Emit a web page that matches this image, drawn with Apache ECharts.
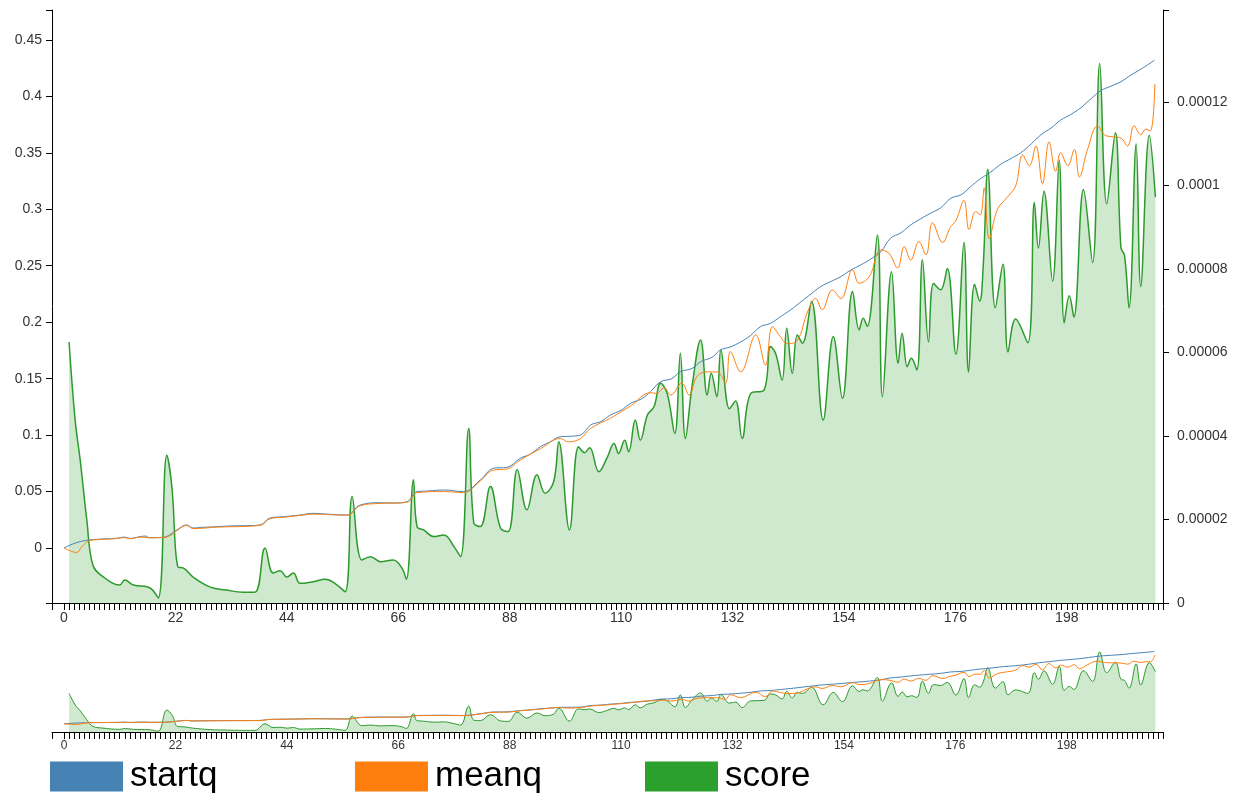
<!DOCTYPE html>
<html>
<head>
<meta charset="utf-8">
<script src="https://cdn.jsdelivr.net/npm/echarts@6/dist/echarts.min.js"></script>
<style>
  html, body { margin: 0; padding: 0; background: #fff; }
  #chart { width: 1239px; height: 795px; }
</style>
</head>
<body>
<div id="chart"></div>
<script>
// tick labels
var xLabels = [0, 22, 44, 66, 88, 110, 132, 154, 176, 198];
var leftLabels = [0, 0.05, 0.1, 0.15, 0.2, 0.25, 0.3, 0.35, 0.4, 0.45];
var rightLabels = [0, 0.00002, 0.00004, 0.00006, 0.00008, 0.0001, 0.00012];

// startq (left axis), [index, value]
var startq = [
  [0, 0.000], [2, 0.004], [4, 0.0065], [5, 0.0071], [7, 0.0078], [9, 0.0083], [10.4, 0.0086],
  [12, 0.0097], [13, 0.0085], [15, 0.0100], [16, 0.0106], [17, 0.0092], [19.6, 0.0095], [21, 0.012],
  [22.3, 0.016], [24.2, 0.0204], [25.5, 0.0177], [27, 0.0182], [30.2, 0.0189], [33, 0.0196],
  [36, 0.0198], [38.7, 0.0204], [40.7, 0.0266], [43.3, 0.0277], [46.6, 0.0292], [49.2, 0.0307],
  [52, 0.0300], [55.9, 0.0292], [58.5, 0.0381], [62.5, 0.0401], [65, 0.0398], [67.7, 0.0410],
  [69.7, 0.0499], [72, 0.0505], [75, 0.0514], [78.9, 0.0499], [82.2, 0.0602], [84.8, 0.0706],
  [87.5, 0.0715], [90.1, 0.0795], [92, 0.0830], [94.1, 0.0898], [96, 0.0940], [98, 0.0986],
  [100, 0.0990], [102, 0.1001], [104, 0.1090], [106, 0.1120], [107.9, 0.1178], [110, 0.1220],
  [111.9, 0.1282], [114, 0.1320], [115.8, 0.1385], [117.8, 0.1473], [120, 0.1500], [121.7, 0.1562],
  [124, 0.1590], [125.7, 0.1650], [128, 0.1690], [129.6, 0.1754], [131.5, 0.1780], [133.6, 0.1825],
  [135.5, 0.1880], [137.5, 0.1960], [139.5, 0.1990], [141.5, 0.2050], [143.5, 0.2110], [145.5, 0.2180],
  [147.5, 0.2250], [149.4, 0.2315], [151.4, 0.2360], [153.4, 0.2404], [155.3, 0.2460], [157.3, 0.2507],
  [159.3, 0.2560], [161.3, 0.2625], [163.2, 0.2744], [165.2, 0.2790], [167.2, 0.2862], [169.2, 0.2917],
  [171.1, 0.2965], [173.1, 0.3013], [175.1, 0.3098], [177.1, 0.3128], [179, 0.3200], [181, 0.3272],
  [183, 0.3330], [185, 0.3400], [187, 0.3450], [188.9, 0.3500], [191, 0.3580], [192.9, 0.3660],
  [194.9, 0.3720], [196.8, 0.3790], [198.8, 0.3840], [200.8, 0.3900], [202.8, 0.3980], [204.7, 0.4050],
  [206.7, 0.4090], [208.7, 0.4130], [210.7, 0.4190], [212.6, 0.4240], [214, 0.4280], [215.3, 0.4320]
];

// meanq (left axis), [index, value]
var meanq = [
  [0, 0.000], [1.5, -0.003], [2.5, -0.004], [3.5, 0.001], [5, 0.0065], [7, 0.0075], [9, 0.0080],
  [10.4, 0.0084], [12, 0.0092], [13, 0.0082], [15, 0.0097], [17, 0.0090], [19.6, 0.0093], [21, 0.0110],
  [22.3, 0.0155], [24.2, 0.0200], [25.5, 0.0172], [30.2, 0.0185], [38.7, 0.0200], [40.7, 0.0260],
  [43.3, 0.0272], [46.6, 0.0288], [49.2, 0.0300], [55.9, 0.0290], [58.5, 0.0375], [62.5, 0.0395],
  [67.7, 0.0405], [69.7, 0.0490], [75, 0.0500], [78.9, 0.0490], [82.2, 0.0595], [84.8, 0.0690],
  [87.5, 0.0700], [90.1, 0.0780], [94.1, 0.0880], [98, 0.0970], [99.6, 0.0940], [102, 0.0970],
  [104, 0.1060], [107.9, 0.1150], [111.9, 0.1260], [115.8, 0.1375], [117, 0.1370], [118.5, 0.1420],
  [119.8, 0.1355], [122, 0.1460], [123.4, 0.1355], [125, 0.1520], [127, 0.1560], [129, 0.1560],
  [130.6, 0.1460], [131.6, 0.1740], [133.6, 0.1560], [136.6, 0.1887], [138.5, 0.1620], [139.9, 0.1960],
  [141.5, 0.1870], [142.8, 0.1810], [144.8, 0.1840], [146.8, 0.2090], [148.4, 0.2210], [149.7, 0.2110],
  [151.7, 0.2286], [153.4, 0.2210], [155.7, 0.2463], [157, 0.2345], [159, 0.2404], [161.3, 0.2640],
  [162.9, 0.2610], [164.6, 0.2480], [165.9, 0.2670], [167.2, 0.2550], [168.8, 0.2714], [170.2, 0.2596],
  [171.5, 0.2880], [173.5, 0.2706], [175, 0.2840], [176.1, 0.2900], [177.7, 0.3078], [178.7, 0.2820],
  [180, 0.2980], [180.9, 0.2950], [181.7, 0.3190], [182.7, 0.2740], [184.3, 0.2997], [186.3, 0.3110],
  [187.9, 0.3207], [189.3, 0.3480], [190.6, 0.3385], [191.9, 0.3560], [193.2, 0.3225], [194.5, 0.3597],
  [195.8, 0.3337], [196.8, 0.3500], [198.2, 0.3385], [199.5, 0.3530], [200.5, 0.3287], [202.1, 0.3530],
  [204.1, 0.3740], [205.4, 0.3660], [206.7, 0.3644], [208.7, 0.3630], [210, 0.3560], [211.3, 0.3740],
  [212.6, 0.3660], [213.6, 0.3710], [214.5, 0.3695], [215.4, 0.4110]
];

// score (right axis), [index, value]
var score = [
  [1, 6.25e-5], [2.2, 4.38e-5], [3.2, 3.42e-5], [4.5, 1.99e-5], [5.7, 0.91e-5], [7.7, 0.63e-5],
  [11, 0.43e-5], [12, 0.55e-5], [13.7, 0.43e-5], [17, 0.36e-5], [18.6, 0.12e-5], [20.3, 3.54e-5],
  [21.3, 2.78e-5], [22.5, 0.86e-5], [23.5, 0.84e-5], [25.5, 0.62e-5], [28.9, 0.38e-5], [32, 0.31e-5],
  [35.4, 0.26e-5], [37.7, 0.26e-5], [39.7, 1.32e-5], [41.3, 0.72e-5], [42.7, 0.77e-5], [44, 0.62e-5],
  [45.3, 0.72e-5], [46.6, 0.47e-5], [49.2, 0.51e-5], [51.6, 0.57e-5], [53.6, 0.46e-5], [55.5, 0.27e-5],
  [56.9, 2.55e-5], [58.8, 1.03e-5], [60.5, 1.11e-5], [62.5, 0.99e-5], [65, 1.03e-5], [66.7, 0.84e-5],
  [67.6, 0.57e-5], [69, 2.95e-5], [69.7, 1.83e-5], [71, 1.75e-5], [73, 1.59e-5], [75, 1.63e-5],
  [77, 1.35e-5], [78.3, 1.11e-5], [79.9, 4.18e-5], [80.9, 1.92e-5], [82.2, 1.83e-5], [84.2, 2.79e-5],
  [86.2, 1.79e-5], [87.7, 1.71e-5], [89.5, 3.19e-5], [91.4, 2.23e-5], [93.4, 3.07e-5], [95, 2.63e-5],
  [96.7, 2.91e-5], [97.7, 3.86e-5], [99.8, 1.75e-5], [101.6, 3.74e-5], [102.8, 3.6e-5], [103.8, 3.72e-5],
  [105.6, 3.14e-5], [107.2, 3.47e-5], [108.6, 3.82e-5], [109.5, 3.58e-5], [110.7, 3.9e-5], [111.5, 3.62e-5],
  [112.8, 4.38e-5], [113.8, 3.9e-5], [115.2, 4.5e-5], [116.5, 4.7e-5], [117.8, 5.26e-5], [119.1, 5.02e-5],
  [120.6, 4.06e-5], [121.7, 5.98e-5], [122.7, 3.94e-5], [124, 5.18e-5], [125.7, 6.3e-5], [127, 4.98e-5],
  [127.8, 5.5e-5], [128.9, 4.94e-5], [129.7, 6.06e-5], [131.4, 4.65e-5], [132.6, 4.84e-5], [133.9, 3.94e-5],
  [135.6, 5.02e-5], [138.2, 5.1e-5], [139.5, 6.14e-5], [140.5, 5.98e-5], [141.8, 5.34e-5], [142.7, 6.58e-5],
  [143.8, 5.5e-5], [144.8, 6.42e-5], [145.8, 6.22e-5], [147.6, 7.22e-5], [149.9, 4.38e-5], [151.9, 6.38e-5],
  [153.7, 4.9e-5], [155.7, 7.46e-5], [157, 6.54e-5], [157.8, 6.82e-5], [158.6, 6.62e-5], [160.6, 8.81e-5],
  [161.6, 4.94e-5], [163.4, 7.93e-5], [164.7, 5.74e-5], [165.5, 6.46e-5], [166.5, 5.66e-5], [167.3, 5.86e-5],
  [168.4, 5.58e-5], [169.5, 8.22e-5], [170.7, 6.25e-5], [171.7, 7.65e-5], [173.1, 7.5e-5], [174.4, 8.01e-5],
  [176.1, 5.96e-5], [177.7, 8.63e-5], [178.6, 5.53e-5], [179.8, 7.63e-5], [180.8, 7.23e-5], [181.5, 8.07e-5],
  [182.4, 10.38e-5], [183.9, 7.07e-5], [185.4, 8.11e-5], [186.4, 6.01e-5], [187.9, 6.8e-5], [190.3, 6.23e-5],
  [191.6, 9.59e-5], [192.4, 8.5e-5], [193.5, 9.86e-5], [195.2, 7.71e-5], [196.5, 10.6e-5], [197.5, 6.71e-5],
  [198.5, 7.36e-5], [199.4, 6.85e-5], [201.3, 9.9e-5], [203.1, 8.15e-5], [204.5, 12.92e-5], [205.9, 9.56e-5],
  [207.6, 11.26e-5], [208.7, 8.5e-5], [209.4, 8.33e-5], [210.3, 7.07e-5], [211.7, 10.99e-5], [212.6, 7.58e-5],
  [214.3, 11.2e-5], [215.5, 9.72e-5]
];

var X_MIN = -2.37, X_MAX = 217;
var L_MIN = -0.0487, L_MAX = 0.4765;
var R_MAX = 0.000142;

var BLUE = '#4682b4', ORANGE = '#ff7f0e', GREEN = '#2ca02c';
var FONT = 'Liberation Sans, Arial, sans-serif';

var xTicks = [X_MIN];
for (var i = 0; i <= 216; i++) xTicks.push(i);
xTicks.push(X_MAX);

var chart = echarts.init(document.getElementById('chart'));

function xAxisFor(gi, fontSize) {
  return {
    type: 'value', gridIndex: gi, min: X_MIN, max: X_MAX,
    axisLine: { onZero: false, lineStyle: { color: '#000', width: 1 } },
    axisTick: { customValues: xTicks, length: 7, lineStyle: { color: '#000', width: 1 } },
    axisLabel: { customValues: xLabels, color: '#333', fontSize: fontSize, fontFamily: FONT, margin: 8 },
    splitLine: { show: false }
  };
}

function lineSeries(name, data, color, width, xi, yi) {
  return {
    name: name, type: 'line', data: data, xAxisIndex: xi, yAxisIndex: yi,
    smooth: 0.4, showSymbol: false, symbol: 'none', silent: true,
    lineStyle: { color: color, width: width },
    itemStyle: { color: color }
  };
}

function legendFor(name, color, left) {
  return {
    left: left, top: 759, padding: 0, icon: 'rect',
    itemWidth: 73, itemHeight: 30, selectedMode: false,
    itemStyle: { borderWidth: 0 },
    textStyle: { fontSize: 35, color: '#000', fontFamily: FONT, padding: [0, 0, 0, 2] },
    data: [{ name: name, itemStyle: { color: color, borderWidth: 0 } }]
  };
}

var scoreMain = lineSeries('score', score, '#2c9a2c', 1.5, 0, 1);
scoreMain.areaStyle = { color: '#cfe9cf', opacity: 1 };
var scoreCtx = lineSeries('score', score, '#2c9a2c', 1, 1, 3);
scoreCtx.areaStyle = { color: '#cfe9cf', opacity: 1 };

var option = {
  animation: false,
  backgroundColor: '#fff',
  grid: [
    { left: 52, right: 76, top: 10, bottom: 192 },
    { left: 52, right: 76, top: 644, bottom: 63 }
  ],
  legend: [
    legendFor('startq', BLUE, 50),
    legendFor('meanq', ORANGE, 355),
    legendFor('score', GREEN, 645)
  ],
  xAxis: [xAxisFor(0, 14), xAxisFor(1, 12)],
  yAxis: [
    {
      type: 'value', gridIndex: 0, position: 'left', min: L_MIN, max: L_MAX,
      axisLine: { show: true, onZero: false, lineStyle: { color: '#000', width: 1 } },
      axisTick: { show: true, customValues: [L_MIN].concat(leftLabels, [L_MAX]), length: 6, lineStyle: { color: '#000' } },
      axisLabel: { customValues: leftLabels, color: '#333', fontSize: 14, fontFamily: FONT, margin: 10,
        formatter: function (v) { return String(v); } },
      splitLine: { show: false }
    },
    {
      type: 'value', gridIndex: 0, position: 'right', min: 0, max: R_MAX,
      axisLine: { show: true, onZero: false, lineStyle: { color: '#000', width: 1 } },
      axisTick: { show: true, customValues: rightLabels.concat([R_MAX]), length: 6, lineStyle: { color: '#000' } },
      axisLabel: { customValues: rightLabels, color: '#333', fontSize: 14, fontFamily: FONT, margin: 14,
        formatter: function (v) { return String(v); } },
      splitLine: { show: false }
    },
    { type: 'value', gridIndex: 1, min: L_MIN, max: L_MAX, show: false, splitLine: { show: false } },
    { type: 'value', gridIndex: 1, min: 0, max: R_MAX, show: false, splitLine: { show: false } }
  ],
  series: [
    scoreMain,
    lineSeries('startq', startq, BLUE, 1, 0, 0),
    lineSeries('meanq', meanq, ORANGE, 1, 0, 0),
    scoreCtx,
    lineSeries('startq', startq, BLUE, 1, 1, 2),
    lineSeries('meanq', meanq, ORANGE, 1, 1, 2)
  ]
};

chart.setOption(option);
</script>
</body>
</html>
